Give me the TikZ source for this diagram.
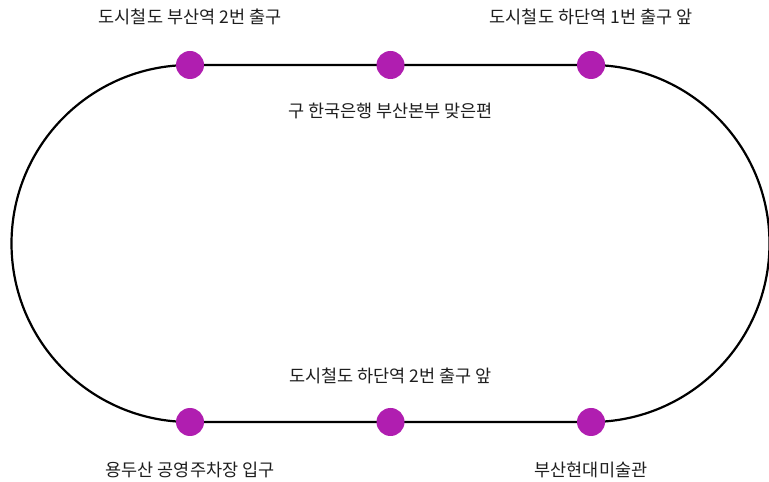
\documentclass[tikz,border=0pt]{standalone}
\usepackage{fontspec}
\setmainfont{Noto Sans CJK KR}
\usetikzlibrary{backgrounds}
\definecolor{stopcol}{RGB}{176,30,176}
\definecolor{txtcol}{RGB}{30,30,30}
\tikzstyle{stop}=[circle, fill=stopcol, inner sep=0pt, minimum size=28pt]
\tikzstyle{track}=[draw=black, line width=2.2pt]
\tikzstyle{every label}=[text=txtcol, font=\fontsize{17.5}{20}\selectfont, label distance=20pt]

\begin{document}
\begin{tikzpicture}[x=1pt, y=1pt]
        \useasboundingbox (0,0) rectangle (769,482);
        \node[stop, label={[label distance=22.5pt]above:도시철도 부산역 2번 출구}]   (T1) at (190, 417) {};
        \node[stop, label=below:구 한국은행 부산본부 맞은편]                         (T2) at (390.5, 417) {};
        \node[stop, label={[label distance=22.5pt]above:도시철도 하단역 1번 출구 앞}] (T3) at (591, 417) {};
        \node[stop, label={[label distance=22.5pt]below:용두산 공영주차장 입구}]     (B1) at (190, 60) {};
        \node[stop, label=above:도시철도 하단역 2번 출구 앞]                         (B2) at (390.5, 60) {};
        \node[stop, label={[label distance=22.5pt]below:부산현대미술관}]             (B3) at (591, 60) {};
        \begin{scope}[on background layer]
        \draw[track] (T1.center) -- (T2.center) -- (T3.center)
            arc[start angle=90, end angle=-90, radius=178.5] -- (B2.center) -- (B1.center)
            arc[start angle=270, end angle=90, radius=178.5] -- cycle;
        \end{scope}
    \end{tikzpicture}
\end{document}
